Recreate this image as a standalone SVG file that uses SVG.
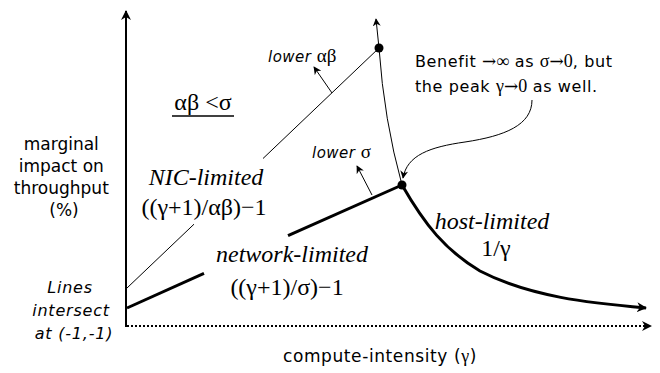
<svg xmlns="http://www.w3.org/2000/svg" width="660" height="373" viewBox="0 0 660 373">
<style>
.sans{font-family:"DejaVu Sans","Liberation Sans",sans-serif;fill:#000}
.serif{font-family:"Liberation Serif","DejaVu Serif",serif;fill:#000}
.sym{font-family:"DejaVu Serif","Liberation Serif",serif;fill:#000}
.thin{stroke:#000;stroke-width:1;fill:none}
.thick{stroke:#000;stroke-width:3;fill:none}
</style>
<defs>
<marker id="ah" viewBox="0 0 10 10" refX="9" refY="5" markerWidth="10" markerHeight="10" markerUnits="userSpaceOnUse" orient="auto">
<path d="M0,0 L10,5 L0,10 L3,5 Z" fill="#000"/>
</marker>
<marker id="ahs" viewBox="0 0 10 10" refX="9" refY="5" markerWidth="8" markerHeight="8" markerUnits="userSpaceOnUse" orient="auto">
<path d="M0,0 L10,5 L0,10 L3,5 Z" fill="#000"/>
</marker>
</defs>
<rect width="660" height="373" fill="#fff"/>
<g id="axes">
<line x1="126" y1="327" x2="126" y2="11" stroke="#000" stroke-width="2" marker-end="url(#ah)"/>
<line x1="127" y1="326" x2="651" y2="326" stroke="#000" stroke-width="2" stroke-dasharray="2,2" marker-end="url(#ah)"/>
</g>
<g id="connectors">
<path class="thin" d="M127,288 L194,224.2"/>
<path class="thin" d="M263,158.5 L379,48"/>
<path class="thick" d="M127,308 L204,273.4"/>
<path class="thick" d="M288,235.7 L402,185"/>
<path class="thick" d="M402,185 C425,225 445,250 480,271 C530,297 590,303 646,308" marker-end="url(#ah)"/>
<path class="thin" d="M402,185 Q384,120 379,48 L376,19" marker-end="url(#ahs)"/>
<path class="thin" d="M532,100 C532,125 505,136 465,142 C430,147 407,155 403,178" marker-end="url(#ahs)"/>
<path class="thin" d="M332,93 L314,67" marker-end="url(#ahs)"/>
<path class="thin" d="M372,195 L357,166" marker-end="url(#ahs)"/>
</g>
<g id="peak-top"><circle cx="379" cy="48" r="4.5" fill="#000"/></g>
<g id="peak-bottom"><circle cx="402" cy="185" r="4.5" fill="#000"/></g>
<g id="y-label">
<text class="sans" font-size="17" text-anchor="middle">
<tspan x="64" y="150">marginal</tspan>
<tspan x="64" y="172">impact on</tspan>
<tspan x="64" y="194">throughput</tspan>
<tspan x="64" y="216">(%)</tspan>
</text>
</g>
<g id="intersect-label">
<text class="sans" font-size="16" font-style="italic" letter-spacing="0.8" text-anchor="middle">
<tspan x="73" y="293">Lines</tspan>
<tspan x="74" y="316">intersect</tspan>
<tspan x="74" y="339">at (-1,-1)</tspan>
</text>
</g>
<g id="condition">
<text class="serif" x="203" y="110" font-size="24" text-anchor="middle">αβ &lt;σ</text>
<line x1="172" y1="116" x2="234" y2="116" stroke="#000" stroke-width="1.5"/>
</g>
<g id="lower-ab">
<text x="268" y="62"><tspan class="sans" font-size="15" font-style="italic" letter-spacing="0.5">lower </tspan><tspan class="serif" font-size="19">αβ</tspan></text>
</g>
<g id="lower-s">
<text x="312" y="158"><tspan class="sans" font-size="15" font-style="italic" letter-spacing="0.5">lower </tspan><tspan class="serif" font-size="19">σ</tspan></text>
</g>
<g id="nic">
<text class="serif" font-size="24" text-anchor="middle">
<tspan x="209" y="185" font-style="italic">NIC-limited</tspan>
<tspan x="204" y="215">((γ+1)/αβ)−1</tspan>
</text>
</g>
<g id="network">
<text class="serif" font-size="24" text-anchor="middle">
<tspan x="295" y="262" font-style="italic">network-limited</tspan>
<tspan x="287" y="295">((γ+1)/σ)−1</tspan>
</text>
</g>
<g id="host">
<text class="serif" font-size="24" text-anchor="middle">
<tspan x="495" y="229" font-style="italic">host-limited</tspan>
<tspan x="496" y="256">1/γ</tspan>
</text>
</g>
<g id="benefit">
<text x="415" y="67"><tspan class="sans" font-size="16" letter-spacing="0.6">Benefit </tspan><tspan class="sym" font-size="17">→</tspan><tspan class="serif" font-size="18">∞</tspan><tspan class="sans" font-size="16" letter-spacing="0.6"> as </tspan><tspan class="serif" font-size="18">σ</tspan><tspan class="sym" font-size="17">→</tspan><tspan class="serif" font-size="18">0</tspan><tspan class="sans" font-size="16" letter-spacing="0.6">, but</tspan></text>
<text x="415" y="92"><tspan class="sans" font-size="16" letter-spacing="0.6">the peak </tspan><tspan class="serif" font-size="18">γ</tspan><tspan class="sym" font-size="17">→</tspan><tspan class="serif" font-size="18">0</tspan><tspan class="sans" font-size="16" letter-spacing="0.6"> as well.</tspan></text>
</g>
<g id="x-label">
<text class="sans" x="380" y="362" font-size="17" letter-spacing="0.6" text-anchor="middle">compute-intensity (<tspan class="serif" font-size="18">γ</tspan>)</text>
</g>
</svg>
